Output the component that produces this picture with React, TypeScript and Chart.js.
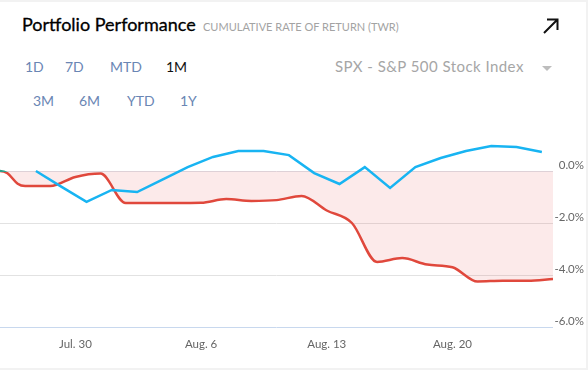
import React, { useEffect, useRef } from "react";
import { Chart, registerables } from "chart.js";

Chart.register(...registerables);

// Trading days shown on the category axis
const dates = [
  "Jul. 25", "Jul. 26", "Jul. 27", "Jul. 30", "Jul. 31",
  "Aug. 1", "Aug. 2", "Aug. 3", "Aug. 6", "Aug. 7", "Aug. 8", "Aug. 9", "Aug. 10",
  "Aug. 13", "Aug. 14", "Aug. 15", "Aug. 16", "Aug. 17",
  "Aug. 20", "Aug. 21", "Aug. 22", "Aug. 23", "Aug. 24",
];
const xTickLabels = ["Jul. 30", "Aug. 6", "Aug. 13", "Aug. 20"];

// Portfolio cumulative TWR (%)
const portfolioTwr = [
  0, -0.58, -0.58, -0.23, -0.1, -1.23, -1.23, -1.23, -1.22, -1.08, -1.15, -1.12,
  -0.96, -1.52, -2.0, -3.5, -3.35, -3.6, -3.7, -4.25, -4.22, -4.22, -4.15,
];

// SPX benchmark cumulative return (%)
const benchmarkTwr = [
  0.0, -0.6, -1.19, -0.73, -0.81, -0.33, 0.15, 0.54, 0.77, 0.77, 0.61,
  -0.08, -0.5, 0.15, -0.65, 0.15, 0.5, 0.77, 0.96, 0.92, 0.73,
];

const yMin = -6;
const yMax = 2;
const yStep = 2;

const periodsRow1 = ["1D", "7D", "MTD", "1M"];
const periodsRow2 = ["3M", "6M", "YTD", "1Y"];
const selectedPeriod = "1M";
const benchmarkName = "SPX - S&P 500 Stock Index";

const FONT = "Lato, 'Open Sans', sans-serif";
const RED = "#e0483c";
const GREEN = "#2aa08a";
const BLUE = "#18b4f2";

// Makes the portfolio curve leave its first point horizontally
const flatStartPlugin = {
  id: "flatStart",
  beforeDatasetsDraw(chart: any) {
    const meta = chart.getDatasetMeta(1);
    if (!meta || !meta.dataset) return;
    const line = meta.dataset;
    if (line.updateControlPoints) line.updateControlPoints(chart.chartArea, "x");
    const pts = meta.data;
    if (!pts || pts.length < 2) return;
    const p0 = pts[0];
    const p1 = pts[1];
    const half = (p1.x - p0.x) / 2;
    p0.cp2x = p0.x + half;
    p0.cp2y = p0.y;
    p1.cp1x = p1.x - half;
    p1.cp1y = p1.y;
  },
};

function ChartCanvas() {
  const ref = useRef<HTMLCanvasElement | null>(null);
  useEffect(() => {
    if (!ref.current) return;
    const chart = new Chart(ref.current, {
      type: "line",
      data: {
        labels: dates,
        datasets: [
          {
            label: benchmarkName,
            data: benchmarkTwr.map((v, i) => ({ x: i, y: v })),
            xAxisID: "x2",
            yAxisID: "y",
            borderColor: BLUE,
            borderWidth: 2.5,
            pointRadius: 0,
            pointHoverRadius: 0,
            tension: 0,
            fill: false,
          },
          {
            label: "Portfolio",
            data: portfolioTwr,
            xAxisID: "x",
            yAxisID: "y",
            borderColor: (ctx: any) => {
              const c = ctx.chart;
              const area = c.chartArea;
              if (!area) return RED;
              const y0 = c.scales.y.getPixelForValue(0);
              const g = c.ctx.createLinearGradient(0, area.top, 0, area.bottom);
              const s = Math.min(1, Math.max(0, (y0 + 1.3 - area.top) / (area.bottom - area.top)));
              g.addColorStop(0, GREEN);
              g.addColorStop(s, GREEN);
              g.addColorStop(Math.min(1, s + 0.001), RED);
              g.addColorStop(1, RED);
              return g;
            },
            borderWidth: 2.5,
            pointRadius: 0,
            pointHoverRadius: 0,
            cubicInterpolationMode: "monotone",
            fill: { value: 0 },
            backgroundColor: "rgba(232, 80, 80, 0.12)",
          },
        ],
      },
      plugins: [flatStartPlugin],
      options: {
        animation: false,
        responsive: false,
        layout: { autoPadding: false, padding: { top: 9, right: 4, left: 0, bottom: 0 } },
        plugins: { legend: { display: false }, tooltip: { enabled: false } },
        scales: {
          x: {
            type: "category",
            grid: { display: false, drawTicks: true, tickLength: 10 },
            border: { display: false },
            afterFit: (s: any) => {
              s.height = 30;
              s.paddingLeft = 0;
              s.paddingRight = 0;
            },
            ticks: {
              autoSkip: false,
              maxRotation: 0,
              padding: 0,
              color: "#666",
              font: { family: FONT, size: 11.5 },
              callback: function (this: any, value: any) {
                const l = this.getLabelForValue(value);
                return xTickLabels.includes(l) ? l : "";
              },
            },
          },
          x2: {
            type: "linear",
            display: false,
            min: -1.42,
            max: 20.44,
          },
          y: {
            position: "right",
            min: yMin,
            max: yMax,
            afterBuildTicks: (s: any) => {
              s.ticks = s.ticks.filter((t: any) => t.value <= 0);
            },
            afterFit: (s: any) => { s.width = 31; },
            border: { display: false },
            grid: {
              drawTicks: false,
              color: (ctx: any) => {
                const v = ctx.tick ? ctx.tick.value : null;
                if (v === 0) return "#dde3ea";
                if (v === yMin) return "#c8d8ee";
                return "#e2e2e2";
              },
              lineWidth: 1,
            },
            ticks: {
              stepSize: yStep,
              crossAlign: "far",
              padding: 0,
              labelOffset: -6,
              color: "#666",
              font: { family: FONT, size: 11.5 },
              callback: (v: any) => Number(v).toFixed(1) + "%",
            },
          },
        },
      },
    } as any);
    return () => chart.destroy();
  }, []);
  return (
    <canvas
      ref={ref}
      width={588}
      height={247}
      style={{ position: "absolute", left: 0, top: 110, width: 588, height: 247 }}
    />
  );
}

export default function App() {
  const btn = (label: string, left: number, top: number) => (
    <div
      key={label}
      style={{
        position: "absolute",
        left,
        top,
        fontSize: 14,
        lineHeight: "14px",
        fontFamily: FONT,
        color: label === selectedPeriod ? "#111" : "#6a86b4",
        whiteSpace: "nowrap",
      }}
    >
      {label}
    </div>
  );
  const row1Left = [25, 65, 110, 166];
  const row2Left = [33, 79, 127, 180];
  return (
    <div style={{ position: "fixed", left: 0, top: 0, width: 588, height: 370, background: "#f2f2f2", overflow: "hidden" }}>
      <div style={{ position: "absolute", left: 0, top: 2, width: 586, height: 366, background: "#fff" }}>
        <div style={{ position: "absolute", left: 0, top: -2, width: 586, height: 370 }}>
          <div
            style={{
              position: "absolute", left: 22, top: 15, fontSize: 18, lineHeight: "18px",
              fontFamily: FONT, color: "#000", whiteSpace: "nowrap",
              WebkitTextStroke: "0.3px #000",
            }}
          >
            Portfolio Performance
          </div>
          <div
            style={{
              position: "absolute", left: 203, top: 21, fontSize: 11, lineHeight: "11px",
              fontFamily: FONT, color: "#a3a3a3", whiteSpace: "nowrap",
            }}
          >
            CUMULATIVE RATE OF RETURN (TWR)
          </div>
          <svg style={{ position: "absolute", left: 540, top: 15 }} width={22} height={22}>
            <path d="M4 18 L17 5 M7 4.5 L17.5 4.5 L17.5 15" stroke="#111" strokeWidth={2} fill="none" />
          </svg>
          {periodsRow1.map((p, i) => btn(p, row1Left[i], 60))}
          {periodsRow2.map((p, i) => btn(p, row2Left[i], 94))}
          <div
            style={{
              position: "absolute", left: 335, top: 59, fontSize: 15, lineHeight: "15px",
              fontFamily: FONT, color: "#a6a6a6", whiteSpace: "nowrap", letterSpacing: "0.45px",
            }}
          >
            {benchmarkName}
          </div>
          <svg style={{ position: "absolute", left: 541, top: 65 }} width={12} height={8}>
            <path d="M1 1 L11 1 L6 6 Z" fill="#bdbdbd" />
          </svg>
          <ChartCanvas />
        </div>
      </div>
    </div>
  );
}
